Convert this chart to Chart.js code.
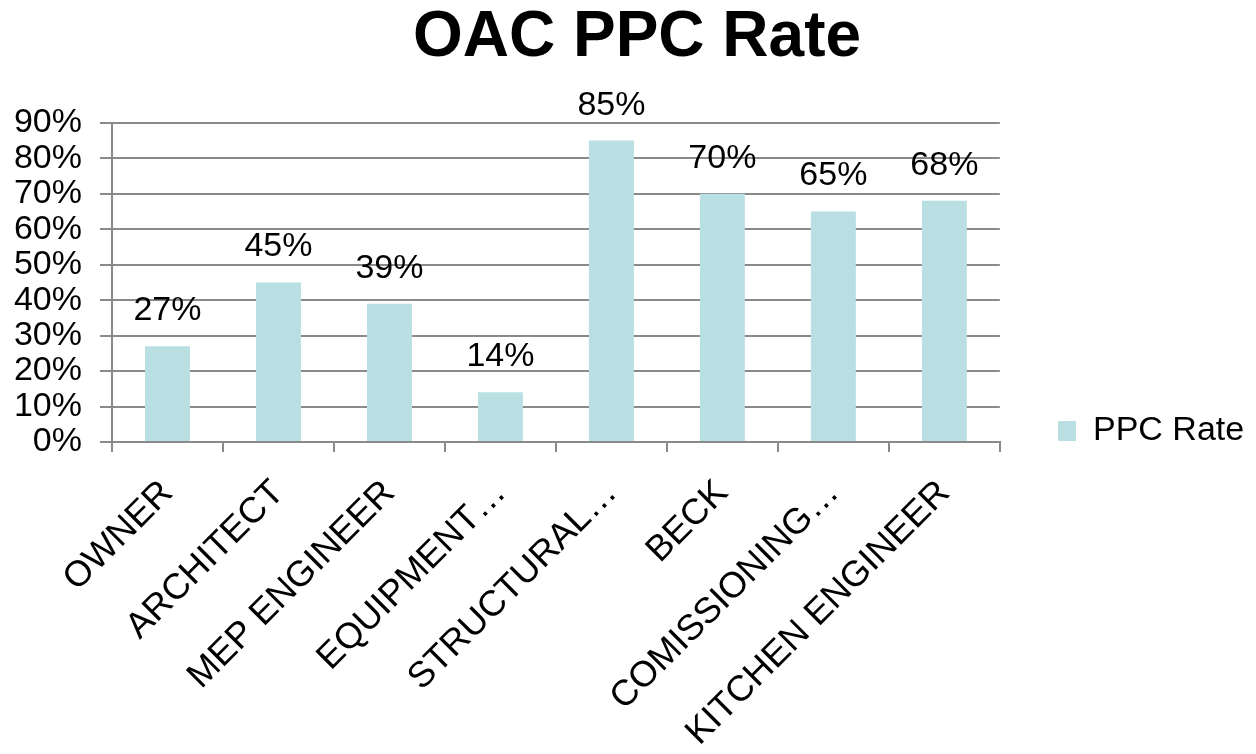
<!DOCTYPE html>
<html>
<head>
<meta charset="utf-8">
<script src="https://cdn.jsdelivr.net/npm/chart.js@4"></script>
<style>
html,body{margin:0;padding:0;background:#fff;}
#wrap{width:1256px;height:754px;}
</style>
</head>
<body>
<div id="wrap"><canvas id="c" width="1256" height="754"></canvas></div>
<script>
const categories = ["OWNER", "ARCHITECT", "MEP ENGINEER", "EQUIPMENT\u2026", "STRUCTURAL\u2026", "BECK", "COMISSIONING\u2026", "KITCHEN ENGINEER"];
const ppcRate = [27, 45, 39, 14, 85, 70, 65, 68];
const yTicks = [0, 10, 20, 30, 40, 50, 60, 70, 80, 90];
const seriesName = "PPC Rate";
const titleText = "OAC PPC Rate";

const FONT = "'Liberation Sans', Arial, sans-serif";
const GRID = "#8a8a8a";
const BAR = "#b9dfe2";

const dataLabels = {
  id: 'dataLabels',
  afterDatasetsDraw(chart) {
    const ctx = chart.ctx;
    const meta = chart.getDatasetMeta(0);
    ctx.save();
    ctx.font = "34px " + FONT;
    ctx.fillStyle = "#000";
    ctx.textAlign = "center";
    ctx.textBaseline = "alphabetic";
    meta.data.forEach((bar, i) => {
      ctx.fillText(ppcRate[i] + "%", bar.x, bar.y - 26);
    });
    ctx.restore();
  }
};

const shiftBoxes = {
  id: 'shiftBoxes',
  afterLayout(chart) {
    const lg = chart.legend;
    if (lg) {
      const dx = 1048 - lg.left;
      lg.left += dx; lg.right += dx;
      const dy = 442 - lg.bottom + 16;
      lg.top += dy; lg.bottom += dy;
    }
    const tb = chart.titleBlock;
    if (tb) {
      const dx = 637 - (tb.left + tb.right) / 2;
      tb.left += dx; tb.right += dx;
    }
  }
};

new Chart(document.getElementById('c'), {
  type: 'bar',
  data: {
    labels: categories,
    datasets: [{
      label: seriesName,
      data: ppcRate,
      backgroundColor: BAR,
      borderWidth: 0,
      barPercentage: 0.405,
      categoryPercentage: 1.0
    }]
  },
  options: {
    responsive: false,
    animation: false,
    layout: { padding: { left: 0, right: 50, top: 0, bottom: 0 } },
    plugins: {
      title: {
        display: true,
        text: titleText,
        color: "#000",
        font: { family: FONT, size: 64, weight: 'bold' },
        padding: { top: 0, bottom: 46 }
      },
      legend: {
        display: true,
        position: 'right',
        align: 'end',
        fullSize: false,
        labels: {
          color: "#000",
          font: { family: FONT, size: 34 },
          boxWidth: 18,
          boxHeight: 20,
          padding: 10
        }
      },
      tooltip: { enabled: false }
    },
    scales: {
      x: {
        grid: {
          display: true,
          drawOnChartArea: false,
          drawTicks: true,
          tickLength: 10,
          color: GRID,
          lineWidth: 2,
          offset: true
        },
        border: { display: true, color: GRID, width: 2 },
        ticks: {
          color: "#000",
          font: { family: FONT, size: 36 },
          maxRotation: 45,
          minRotation: 45,
          autoSkip: false,
          padding: 20
        },
        afterFit(scale) { scale.height = 312; }
      },
      y: {
        min: 0,
        max: 90,
        afterBuildTicks(scale) { scale.ticks = yTicks.map(v => ({ value: v })); },
        grid: {
          color: GRID,
          lineWidth: 2,
          drawTicks: true,
          tickLength: 12
        },
        border: { display: true, color: GRID, width: 2 },
        ticks: {
          color: "#000",
          font: { family: FONT, size: 34 },
          padding: 18,
          autoSkip: false,
          callback: (v) => v + "%"
        },
        afterFit(scale) { scale.width = 112; }
      }
    }
  },
  plugins: [dataLabels, shiftBoxes]
});
</script>
</body>
</html>
